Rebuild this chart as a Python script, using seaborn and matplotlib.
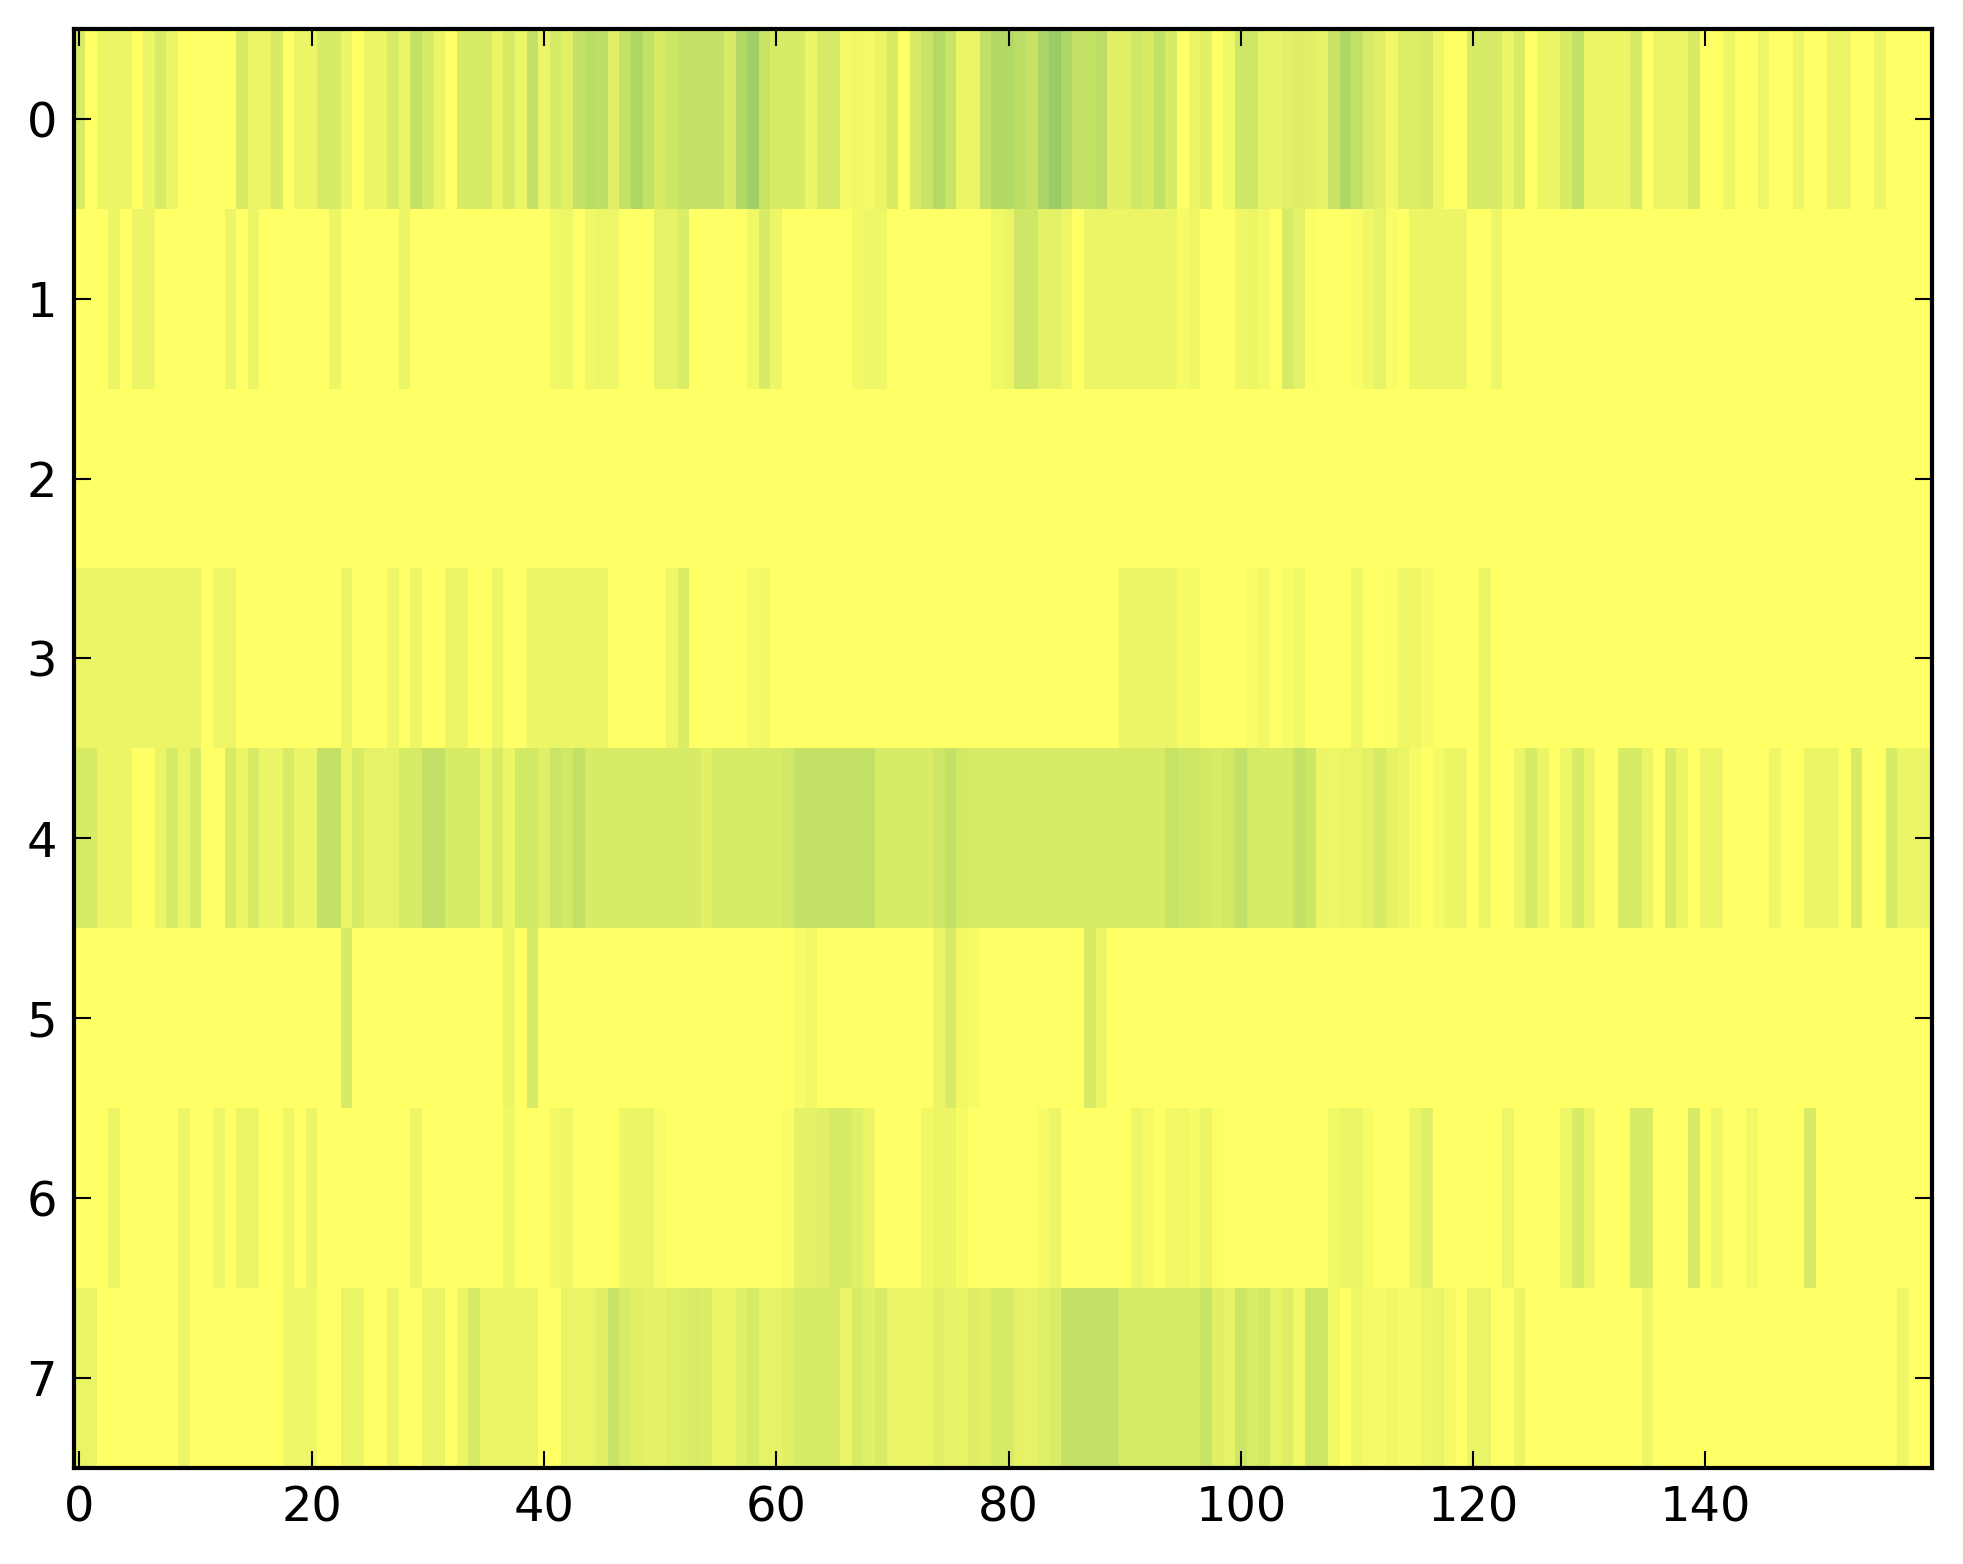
import numpy as np
import pandas as pd
import matplotlib
matplotlib.use("Agg")
import matplotlib.pyplot as plt
import seaborn as sns

row_0 = [
    2, 0, 1, 1, 1, 0, 1, 2, 1, 0,
    0, 0, 0, 0, 2, 1, 1, 2, 0, 1,
    1, 2, 2, 1, 0, 1, 1, 2, 1, 3,
    2, 1, 0, 2, 2, 2, 1, 2, 1, 3,
    1, 2, 1.5, 3, 3.4, 3.2, 1.5, 3, 4, 3,
    2, 2.5, 3, 3, 3, 3, 2, 3.8, 4.7, 2.8,
    2, 2, 2, 1, 2, 2, .5, .7, .5, 1,
    2, 0, 2, 2.7, 3.7, 2.7, 1, 1, 3, 3.8,
    3.8, 3.3, 2.8, 4.2, 5, 4, 2.9, 2.9, 3.3, 1.5,
    1.5, 2.4, 2, 3, 2, 0, 1, 1.5, 0, .7,
    2.4, 2.4, 1.2, 1.2, 1.5, 1.7, 1.5, 1.2, 2.7, 4,
    3, 2, 1.5, .6, 1.7, 1.7, 2, .8, 0, 0,
    2, 2, 2, 1, 2, 0, 1, 1, 2, 3,
    1, 1, 1, 1, 2, 0, 1, 1, 1, 2,
    0, 0, .9, 0, 0, .9, 0, 0, .9, 0,
    0, 1, 1, 0, 0, .9, 0, 0, 0, 0,
]
row_1 = [
    0, 0, 0, 1, 0, 1, 1, 0, 0, 0,
    0, 0, 0, 1, 0, 1, 0, 0, 0, 0,
    0, 0, 1, 0, 0, 0, 0, 0, 1, 0,
    0, 0, 0, 0, 0, 0, 0, 0, 0, 0,
    0, .7, .9, 0, .7, .9, .9, 0, 0, 0,
    1.2, 1.2, 1.8, 0, 0, 0, 0, 0, .7, 2,
    .9, 0, 0, 0, 0, 0, 0, .6, .9, .8,
    0, 0, 0, 0, 0, 0, 0, 0, 0, .7,
    1, 2.4, 2.4, 1.4, 1.4, .9, 0, 1, 1, 1,
    1, 1, 1, 1, 1, .5, .8, 0, 0, 0,
    .8, 1, .6, 0, 2, 1.4, .1, 0, 0, 0,
    .3, .7, 1.2, .3, 0, 1, 1, 1, 1, 1,
    0, 0, .9, 0, 0, 0, 0, 0, 0, 0,
    0, 0, 0, 0, 0, 0, 0, 0, 0, 0,
    0, 0, 0, 0, 0, 0, 0, 0, 0, 0,
    0, 0, 0, 0, 0, 0, 0, 0, 0, 0,
]
row_2 = [0] * 160
row_3 = [
    1, 1, 1, 1, 1, 1, 1, 1, 1, 1,
    1, 0, .9, .9, 0, 0, 0, 0, 0, 0,
    0, 0, 0, 1, 0, 0, 0, .9, 0, .9,
    0, 0, 1, 1, 0, 0, .9, 0, 0, 1,
    1, 1, 1, 1, 1, 1, 0, 0, 0, 0,
    0, .8, 1.8, 0, 0, 0, 0, 0, .5, .7,
    0, 0, 0, 0, 0, 0, 0, 0, 0, 0,
    0, 0, 0, 0, 0, 0, 0, 0, 0, 0,
    0, 0, 0, 0, 0, 0, 0, 0, 0, 0,
    1, 1, 1, 1, 1, .5, .5, 0, 0, 0,
    0, .3, .6, 0, .4, .7, 0, 0, 0, 0,
    .8, 0, 0, .15, .8, .8, .4, 0, 0, 0,
    0, 1, 0, 0, 0, 0, 0, 0, 0, 0,
    0, 0, 0, 0, 0, 0, 0, 0, 0, 0,
    0, 0, 0, 0, 0, 0, 0, 0, 0, 0,
    0, 0, 0, 0, 0, 0, 0, 0, 0, 0,
]
row_4 = [
    2, 2, 1, 1, 1, 0, 0, 1, 2, 1,
    2, 0, 0, 2, 1, 2, 1, 1, 2, 1,
    1, 3, 3, 1, 2, 1.2, 1.2, 1.2, 2, 2,
    3, 3, 2, 2, 2, 1, 2, 1, 2.2, 2.2,
    1.6, 2.6, 2.2, 3, 2, 2, 2, 2, 2, 2,
    2, 2, 2, 2, 1.5, 2, 2, 2, 2, 2,
    2, 2.3, 3, 3, 3, 3, 3, 3, 3, 2,
    2, 2, 2, 2, 2.4, 3, 2.3, 2, 2, 2,
    2, 2, 2, 2, 2, 2, 2, 2, 2, 2,
    2, 2, 2, 2, 2.8, 2.5, 2.5, 2.2, 2, 2.3,
    3, 2.1, 2, 2, 2, 2.9, 2.5, 1, .8, 1.1,
    1.1, 1.4, 2, 1.3, 1.1, .4, 0, .5, 1, 1,
    0, 1, 0, 0, 1, 2, 1, 0, .9, 2,
    1, 0, 0, 2, 2, 1, 0, 2, 1, 0,
    1, 1, 0, 0, 0, 0, .9, 0, 0, 1,
    1, 1, 0, 2, 0, 0, 2, 1, 1, 1,
]
row_5 = [
    0, 0, 0, 0, 0, 0, 0, 0, 0, 0,
    0, 0, 0, 0, 0, 0, 0, 0, 0, 0,
    0, 0, 0, 2, 0, 0, 0, 0, 0, 0,
    0, 0, 0, 0, 0, 0, 0, 1, 0, 2,
    0, 0, 0, 0, 0, 0, 0, 0, 0, 0,
    0, 0, 0, 0, 0, 0, 0, 0, 0, 0,
    0, 0, .3, .6, 0, 0, 0, 0, 0, 0,
    0, 0, 0, 0, 1, 2, .7, .4, 0, 0,
    0, 0, 0, 0, 0, 0, 0, 2, 1, 0,
    0, 0, 0, 0, 0, 0, 0, 0, 0, 0,
    0, 0, 0, 0, 0, 0, 0, 0, 0, 0,
    0, 0, 0, 0, 0, 0, 0, 0, 0, 0,
    0, 0, 0, 0, 0, 0, 0, 0, 0, 0,
    0, 0, 0, 0, 0, 0, 0, 0, 0, 0,
    0, 0, 0, 0, 0, 0, 0, 0, 0, 0,
    0, 0, 0, 0, 0, 0, 0, 0, 0, 0,
]
row_6 = [
    0, 0, 0, 1, 0, 0, 0, 0, 0, 1,
    0, 0, .9, 0, 1, 1, 0, 0, .8, 0,
    1, 0, 0, 0, 0, 0, 0, 0, 0, 1,
    0, 0, 0, 0, 0, 0, 0, .8, 0, 0,
    0, .6, .9, 0, 0, 0, 0, .9, 1.1, 1.1,
    .3, 0, 0, 0, 0, 0, 0, 0, 0, 0,
    0, .2, 1.3, 1.3, 1.5, 2, 2, 1.6, 1, 0,
    0, 0, 0, .6, 1, 1, .4, 0, 0, 0,
    0, 0, 0, .4, 1, 0, 0, 0, 0, 0,
    0, .9, .5, 0, .6, .7, .4, 1, .15, 0,
    0, 0, 0, 0, 0, 0, 0, 0, .7, 1.1,
    1.1, .4, 0, 0, 0, 1, 1.6, 0, 0, 0,
    0, 0, 0, .9, 0, 0, 0, 0, .9, 2,
    1, 0, 0, 0, 2, 2, 0, 0, 0, 2,
    0, .8, 0, 0, .7, 0, 0, 0, 0, 2,
    0, 0, 0, 0, 0, 0, 0, 0, 0, 0,
]
row_7 = [
    1.1, 1.1, 0, 0, 0, 0, 0, 0, 0, 1,
    0, 0, 0, 0, 0, 0, 0, 0, .9, .9,
    .9, 0, 0, 1.1, 1.1, 0, 0, 1, 0, 0,
    1.1, 1.1, 0, 1, 2, 1.1, 1.1, 1.1, 1.1, 1.1,
    0, 0, 1.1, 1.1, 1.1, 1.5, 2.8, 2, 1.5, 1.3,
    1.3, 1.6, 1.7, 2, 1.8, 1.1, 1.1, 1.6, 2, 1.2,
    1.2, 1.5, 2, 2, 2, 2, 1.1, 2, 1.5, 2,
    1.1, 1.1, 1.1, 1.1, 1.5, 1.2, 1.2, 1.7, 1.4, 2,
    2, 1.3, 1.2, 1.6, 1.9, 3, 3, 3, 3, 3,
    2, 2, 2, 2, 2, 2, 2, 2.7, 1.5, 1.2,
    2.5, 1.9, 2.2, 1.2, 1.7, .7, 2.4, 2.4, .7, 0,
    .8, .5, .5, .8, .5, .5, .9, 1.1, .5, 0,
    1.1, 1.1, 0, 0, 1, 0, 0, 0, 0, 0,
    0, 0, 0, 0, 0, .9, 0, 0, 0, 0,
    0, 0, 0, 0, 0, 0, 0, 0, 0, 0,
    0, 0, 0, 0, 0, 0, 0, .9, 0, 0,
]
rows = [row_0, row_1, row_2, row_3, row_4, row_5, row_6, row_7]
x_tick_labels = [0, 20, 40, 60, 80, 100, 120, 140]
y_tick_labels = [0, 1, 2, 3, 4, 5, 6, 7]

W, H, DPI = 1963, 1564, 250
plt.rcParams["font.family"] = ["DejaVu Sans"]
fig = plt.figure(figsize=(W / DPI, H / DPI), dpi=DPI)
ax = fig.add_axes([73.5 / W, 1 - 1467.5 / H, (1932 - 73.5) / W, (1467.5 - 29) / H])

df = pd.DataFrame(rows)
sns.heatmap(df, ax=ax, cmap="summer_r", vmin=0, vmax=12.5, cbar=False,
            xticklabels=False, yticklabels=False, linewidths=0)

ax.set_xticks(np.array(x_tick_labels) + 0.5)
ax.set_xticklabels([str(v) for v in x_tick_labels], rotation=0)
ax.set_yticks(np.array(y_tick_labels) + 0.5)
ax.set_yticklabels([str(v) for v in y_tick_labels], rotation=0)
ax.tick_params(axis="both", which="major", direction="in", length=4.8, width=0.6,
               top=True, right=True, bottom=True, left=True, labelsize=13.8,
               colors="black", pad=4.8)
for side in ax.spines.values():
    side.set_visible(True)
    side.set_linewidth(1.2)
    side.set_edgecolor("black")
ax.set_xlabel("")
ax.set_ylabel("")
fig.savefig("out.png", dpi=DPI, facecolor="white")
